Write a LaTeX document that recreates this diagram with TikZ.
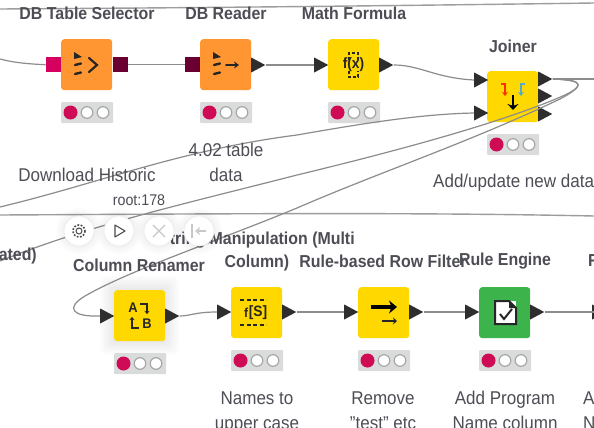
\documentclass[tikz,border=0pt]{standalone}
\usepackage{fontspec}
\setmainfont[FakeStretch=0.92]{Liberation Sans}
\usetikzlibrary{shapes.geometric,arrows.meta}
\definecolor{kyellow}{HTML}{FFD800}
\definecolor{korange}{HTML}{FF9632}
\definecolor{kgreen}{HTML}{3CB44B}
\definecolor{kpink}{HTML}{D6005F}
\definecolor{kwine}{HTML}{6A0032}
\definecolor{kdark}{HTML}{2E2E2E}
\definecolor{kedge}{HTML}{8C8C8C}
\definecolor{ktext}{HTML}{4D4D55}
\definecolor{kstat}{HTML}{DADCDC}
\definecolor{kred}{HTML}{CF0B55}
\tikzset{
  x=1pt,y=-1pt,
  nodebox/.style={rectangle,rounded corners=3pt,minimum size=51pt,inner sep=0pt,anchor=north west},
  statusbar/.style={rectangle,rounded corners=1pt,fill=kstat,minimum width=52pt,minimum height=21pt,inner sep=0pt,anchor=north west},
  tri/.style={isosceles triangle,isosceles triangle stretches,fill=kdark,inner sep=0pt,minimum height=14pt,minimum width=15pt,anchor=lower side},
  sq/.style={rectangle,inner sep=0pt,minimum width=15pt,minimum height=15pt},
  edgeline/.style={draw=kedge,line width=1.2pt},
  frameline/.style={draw=kedge!85,line width=1.4pt},
  title/.style={font=\fontsize{17.3}{23}\selectfont\bfseries,text=ktext,align=center,inner sep=0pt},
  note/.style={font=\fontsize{18.5}{25}\selectfont,text=ktext,align=center,inner sep=0pt},
  btn/.style={circle,fill=white,draw=black!8,line width=.7pt,minimum size=30pt,inner sep=0pt},
  glyph/.style={line width=2.2pt,draw=black!85,line cap=round},
}
\newcommand{\statusdots}[3]{%
  \node[statusbar] (#1) at (#2,#3) {};
  \fill[kred] (#2+9.5,#3+10.5) circle (7);
  \filldraw[fill=white,draw=black!35,line width=1.2pt] (#2+26,#3+10.5) circle (5.8);
  \filldraw[fill=white,draw=black!35,line width=1.2pt] (#2+42,#3+10.5) circle (5.8);
}
\begin{document}
\begin{tikzpicture}
\useasboundingbox (0,0) rectangle (594,428);
\clip (0,0) rectangle (594,428);
\fill[white] (0,0) rectangle (594,428);
% free ends
\coordinate (tl) at (0,9); \coordinate (tr) at (594,3);
\coordinate (ml) at (0,215); \coordinate (mr) at (594,216);
\coordinate (inA) at (0,59); \coordinate (la) at (0,207); \coordinate (lb) at (0,261);
\coordinate (joinout) at (594,79); \coordinate (ruleout) at (594,312);
% frame lines
\draw[frameline] (tl) .. controls (150,8) and (300,7) .. (tr);
\draw[frameline] (ml) .. controls (200,214) and (400,212) .. (mr);
% shadow of selected node
\foreach \i in {14,12,...,2}{\fill[black,opacity=.012,rounded corners=6pt] (114-\i,290-\i) rectangle (165+\i,341+\i);}
% boxes
\node[nodebox,fill=korange] (sel) at (61,39) {};
\node[nodebox,fill=korange] (rd) at (200,39) {};
\node[nodebox,fill=kyellow] (math) at (328,39) {};
\node[nodebox,fill=kyellow] (join) at (487,71) {};
\node[nodebox,fill=kyellow] (ren) at (114,290) {};
\node[nodebox,fill=kyellow] (strm) at (231,287) {};
\node[nodebox,fill=kyellow] (rf) at (358,287) {};
\node[nodebox,fill=kgreen] (re) at (479,287) {};
% status
\statusdots{s1}{61}{102}
\statusdots{s2}{200}{102}
\statusdots{s3}{328}{102}
\statusdots{s4}{487}{134}
\statusdots{s5}{114}{353}
\statusdots{s6}{231}{350}
\statusdots{s7}{358}{350}
\statusdots{s8}{479}{350}
% ports
\node[sq,fill=kpink,anchor=east] (selin) at (sel.west) {};
\node[sq,fill=kwine,anchor=west] (selout) at (sel.east) {};
\node[sq,fill=kwine,anchor=east] (rdin) at (rd.west) {};
\node[tri] (rdout) at (251,65) {};
\node[tri] (mathin) at (314,65) {};
\node[tri] (mathout) at (379,65) {};
\node[tri] (j1) at (474,80) {};
\node[tri] (j2) at (474,113) {};
\node[tri] (o1) at (538,79) {};
\node[tri] (o2) at (538,96) {};
\node[tri] (o3) at (538,114) {};
\node[tri] (renin) at (100,316) {};
\node[tri] (renout) at (165,316) {};
\node[tri] (strin) at (217,312) {};
\node[tri] (strout) at (282,312) {};
\node[tri] (rfin) at (344,312) {};
\node[tri] (rfout) at (409,312) {};
\node[tri] (rein) at (465,312) {};
\node[tri] (reout) at (530,312) {};
\node[tri] (nextin) at (592,312) {};
% connectors
\draw[edgeline] (inA) .. controls (15,63) and (30,64) .. (selin.west);
\draw[edgeline] (selout.east) -- (rdin.west);
\draw[edgeline] (rdout.apex) -- (mathin.lower side);
\draw[edgeline] (mathout.apex) .. controls (420,65) and (435,78) .. (j1.lower side);
\draw[edgeline] (la) .. controls (100,183) and (180,150) .. (297,135) .. controls (360,124) and (420,114) .. (j2.lower side);
\draw[edgeline] (o1.apex) -- (joinout);
\draw[edgeline] (o1.apex) .. controls (572,80) and (592,82) .. (565,95) .. controls (500,124) and (380,155) .. (297,175) .. controls (180,205) and (90,225) .. (lb);
\draw[edgeline] (o1.apex) .. controls (570,80) and (596,80) .. (560,99) .. controls (470,142) and (380,172) .. (297,208) .. controls (220,240) and (130,270) .. (85,296) .. controls (65,308) and (72,317) .. (renin.lower side);
\draw[edgeline] (renout.apex) .. controls (190,316) and (195,312) .. (strin.lower side);
\draw[edgeline] (strout.apex) -- (rfin.lower side);
\draw[edgeline] (rfout.apex) -- (rein.lower side);
\draw[edgeline] (reout.apex) -- (ruleout);
% icons
\foreach \dx in {0,139}{
  \begin{scope}[xshift=\dx pt]
  \fill[black!85] (74,52) -- (82,57) -- (74,59) -- cycle;
  \draw[glyph,line width=2.4pt] (75,65) -- (81,63.5);
  \draw[glyph,line width=2.4pt] (75,74) -- (81,72.5);
  \end{scope}
}
\draw[glyph] (89,58) -- (97,65) -- (89,72);
\draw[glyph,line width=1.8pt,-{Stealth[length=5pt,width=7pt]}] (226,65) -- (239,65);
\node[inner sep=0pt,font=\fontsize{15}{15}\selectfont\bfseries,text=black!85] (mathic) at (353.5,65) {f(x)};
\draw[black!85,line width=1.3pt,dash pattern=on 3pt off 2pt] (349,60) -- (349,53) -- (358,53) -- (358,60);
\draw[black!85,line width=1.3pt,dash pattern=on 3pt off 2pt] (349,71) -- (349,77) -- (358,77) -- (358,71);
\draw[line width=1.2pt,draw=red!65!orange,-{Stealth[length=4pt,width=6pt]}] (501,84) -- (505,84) -- (505,96);
\draw[line width=1.2pt,draw=cyan!55!gray,-{Stealth[length=4pt,width=6pt]}] (525,84) -- (521,84) -- (521,96);
\draw[line width=2.2pt,draw=black,-{Stealth[length=6pt,width=11pt]}] (513,95) -- (513,110);
\node[inner sep=0pt,font=\fontsize{14}{14}\selectfont\bfseries,text=black!85] (ra) at (133,308) {A};
\node[inner sep=0pt,font=\fontsize{14}{14}\selectfont\bfseries,text=black!85] (rb) at (147,324) {B};
\draw[line width=1.3pt,draw=black!85,-{Stealth[length=3pt,width=5pt]}] (140,304) -- (147,304) -- (147,314);
\draw[line width=1.3pt,draw=black!85,-{Stealth[length=3pt,width=5pt]}] (139,328) -- (132,328) -- (132,317);
\node[inner sep=0pt,font=\fontsize{13}{13}\selectfont\bfseries,text=black!85] (sf) at (246,313) {f};
\node[inner sep=0pt,font=\fontsize{15}{15}\selectfont\bfseries,text=black!85] (ss) at (258,313) {[S]};
\draw[black!85,line width=1.4pt,dash pattern=on 4pt off 2.5pt] (240,300) -- (266,300);
\draw[black!85,line width=1.4pt,dash pattern=on 4pt off 2.5pt] (240,325) -- (266,325);
\draw[line width=4pt,draw=black,-{Stealth[length=8pt,width=13pt]}] (371,307) -- (397,307);
\draw[line width=1.4pt,draw=black!85,-{Stealth[length=4pt,width=7pt]}] (382,321) -- (397,321);
\fill[white] (495,301) rectangle (516,324);
\draw[line width=2pt,draw=black!85] (495,301) -- (509,301) -- (516,308) -- (516,324) -- (495,324) -- cycle;
\fill[black!85] (509,301) -- (516,308) -- (509,308) -- cycle;
\draw[line width=2pt,draw=black!85] (500,314) -- (504,319) -- (512,309);
% titles
\node[title] (t1) at (87,13) {DB Table Selector};
\node[title] (t2) at (226,13) {DB Reader};
\node[title] (t3) at (354,13) {Math Formula};
\node[title] (t4) at (513,46) {Joiner};
\node[title] (t5) at (139,265) {Column Renamer};
\node[title,anchor=base] (t6) at (257,267) {String Manipulation (Multi\\Column)};
\node[title] (t7) at (383,261) {Rule-based Row Filter};
\node[title] (t8) at (505,261) {Rule Engine};
\node[title,anchor=west] (t9) at (588,261) {R};
\node[title,anchor=east] (t10) at (37,256) {ated)};
% notes
\node[note] (n1) at (87,175) {Download Historic};
\node[note,anchor=base] (n2) at (226,181) {4.02 table\\data};
\node[note,anchor=west] (n3) at (433,183) {Add/update new data};
\node[note,anchor=base] (n4) at (257,429) {Names to\\upper case};
\node[note,anchor=base] (n5) at (383,429) {Remove\\"test" etc};
\node[note,anchor=base] (n6) at (505,429) {Add Program\\Name column};
\node[note,anchor=base west,align=left] (n7) at (583,429) {A\\N};
\node[inner sep=0pt,font=\fontsize{15.5}{15.5}\selectfont,text=ktext] (root) at (139,200) {root:178};
% toolbar
\foreach \nm/\cx in {b1/79,b2/119,b3/159,b4/199}{
  \foreach \i in {8,6,4,2}{\fill[black,opacity=.012] (\cx,231) circle (15+\i);}
  \node[btn] (\nm) at (\cx,231) {};
}
\draw[black!70,line width=1pt] (79,231) circle (3);
\draw[black!70,line width=1.6pt,dash pattern=on 1.8pt off 1.5pt] (79,231) circle (6);
\draw[black!70,line width=1.1pt,line join=round] (115,225) -- (125,231) -- (115,237) -- cycle;
\draw[black!22,line width=1.2pt] (153,225) -- (165,237) (165,225) -- (153,237);
\draw[black!22,line width=1.2pt] (192,224) -- (192,238);
\draw[black!22,line width=1.2pt,-{Stealth[open,length=5pt,width=8pt]}] (206,231) -- (195,231);
\end{tikzpicture}
\end{document}
